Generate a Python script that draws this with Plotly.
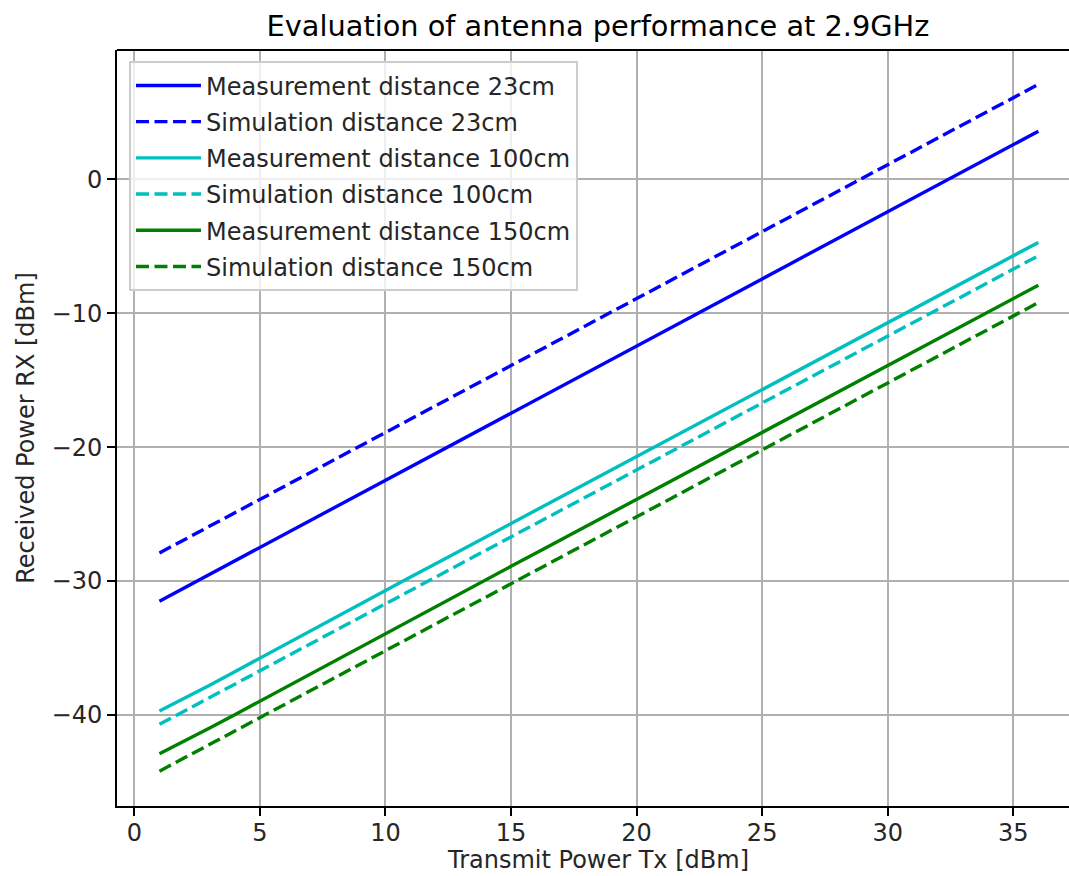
import plotly.graph_objects as go

# Transmit power sweep (dBm)
tx_power = [1, 2, 3, 4, 5, 6, 7, 8, 9, 10, 11, 12, 13, 14, 15, 16, 17, 18,
            19, 20, 21, 22, 23, 24, 25, 26, 27, 28, 29, 30, 31, 32, 33, 34, 35, 36]

# Received power (dBm) per distance
meas_23 = [-31.50, -30.50, -29.49, -28.49, -27.49, -26.48, -25.48, -24.48, -23.48, -22.47,
           -21.47, -20.47, -19.46, -18.46, -17.46, -16.45, -15.45, -14.45, -13.45, -12.44,
           -11.44, -10.44, -9.43, -8.43, -7.43, -6.42, -5.42, -4.42, -3.42, -2.41,
           -1.41, -0.41, 0.60, 1.60, 2.55, 3.60]
sim_23 = [-27.9, -26.9, -25.9, -24.9, -23.9, -22.9, -21.9, -20.9, -19.9, -18.9,
          -17.9, -16.9, -15.9, -14.9, -13.9, -12.9, -11.9, -10.9, -9.9, -8.9,
          -7.9, -6.9, -5.9, -4.9, -3.9, -2.9, -1.9, -0.9, 0.1, 1.1,
          2.1, 3.1, 4.1, 5.1, 6.1, 7.1]
meas_100 = [-39.70, -38.76, -37.78, -36.77, -35.75, -34.73, -33.71, -32.70, -31.70, -30.70,
            -29.70, -28.70, -27.70, -26.70, -25.70, -24.70, -23.70, -22.70, -21.70, -20.70,
            -19.70, -18.70, -17.70, -16.70, -15.70, -14.70, -13.70, -12.70, -11.70, -10.70,
            -9.70, -8.70, -7.70, -6.70, -5.70, -4.70]
sim_100 = [-40.7, -39.7, -38.7, -37.7, -36.7, -35.7, -34.7, -33.7, -32.7, -31.7,
           -30.7, -29.7, -28.7, -27.7, -26.7, -25.7, -24.7, -23.7, -22.7, -21.7,
           -20.7, -19.7, -18.7, -17.7, -16.7, -15.7, -14.7, -13.7, -12.7, -11.7,
           -10.7, -9.7, -8.7, -7.7, -6.7, -5.7]
meas_150 = [-42.90, -41.96, -40.98, -39.98, -38.97, -37.95, -36.93, -35.91, -34.90, -33.90,
            -32.90, -31.90, -30.90, -29.90, -28.90, -27.90, -26.90, -25.90, -24.90, -23.90,
            -22.90, -21.90, -20.90, -19.90, -18.90, -17.90, -16.90, -15.90, -14.90, -13.90,
            -12.90, -11.90, -10.90, -9.90, -8.90, -7.90]
sim_150 = [-44.2, -43.2, -42.2, -41.2, -40.2, -39.2, -38.2, -37.2, -36.2, -35.2,
           -34.2, -33.2, -32.2, -31.2, -30.2, -29.2, -28.2, -27.2, -26.2, -25.2,
           -24.2, -23.2, -22.2, -21.2, -20.2, -19.2, -18.2, -17.2, -16.2, -15.2,
           -14.2, -13.2, -12.2, -11.2, -10.2, -9.2]

series_names = ["Measurement distance 23cm", "Simulation distance 23cm",
                "Measurement distance 100cm", "Simulation distance 100cm",
                "Measurement distance 150cm", "Simulation distance 150cm"]
series_values = [meas_23, sim_23, meas_100, sim_100, meas_150, sim_150]
series_colors = ["#0000ff", "#0000ff", "#00bfbf", "#00bfbf", "#008000", "#008000"]
series_dash = ["solid", "13px,5.5px", "solid", "13px,5.5px", "solid", "13px,5.5px"]

x_ticks = [0, 5, 10, 15, 20, 25, 30, 35]
y_ticks = [-40, -30, -20, -10, 0]
y_tick_text = ["\u221240", "\u221230", "\u221220", "\u221210", "0"]

FONT = "DejaVu Sans"
TEXT = "#262626"

fig = go.Figure()
for i, (name, vals, col, dash) in enumerate(zip(series_names, series_values,
                                                 series_colors, series_dash)):
    fig.add_trace(go.Scatter(
        x=tx_power, y=vals, mode="lines", name=name,
        legendgroup=f"g{i}",
        line=dict(color=col, width=3.4, dash=dash),
    ))

axis_common = dict(
    showline=True, linecolor="black", linewidth=2,
    ticks="outside", ticklen=8, tickwidth=2, tickcolor="black",
    showgrid=True, gridcolor="#b0b0b0", gridwidth=2,
    zeroline=False, automargin=False,
    tickfont=dict(family=FONT, size=24, color=TEXT),
)

fig.update_xaxes(
    range=[-0.69, 37.22], tickvals=x_ticks, mirror=False,
    ticklabelstandoff=-4,
    **axis_common,
)
fig.update_yaxes(
    range=[-46.8, 9.67], tickvals=y_ticks, ticktext=y_tick_text,
    title=dict(text="Received Power RX [dBm]",
               font=dict(family=FONT, size=24, color=TEXT), standoff=10),
    **axis_common,
)

# x-axis label, centred under the full axes span
fig.add_annotation(
    text="Transmit Power Tx [dBm]", showarrow=False,
    xref="paper", yref="paper", x=(598 - 117) / 952, y=(806 - 860) / 756,
    xanchor="center", yanchor="middle",
    font=dict(family=FONT, size=24, color=TEXT),
)

# top spine
fig.add_shape(type="line", xref="paper", yref="paper", x0=0, x1=1, y0=1, y1=1,
              line=dict(color="black", width=2))

fig.update_layout(
    width=1069, height=876,
    margin=dict(l=117, r=0, t=50, b=70),
    paper_bgcolor="white", plot_bgcolor="white",
    title=dict(text="Evaluation of antenna performance at 2.9GHz",
               font=dict(family=FONT, size=28.8, color="black"),
               x=598 / 1069, xref="container", xanchor="center",
               y=1 - 26 / 876, yref="container", yanchor="middle"),
    legend=dict(
        x=0.0126, y=0.985, xanchor="left", yanchor="top",
        bgcolor="rgba(255,255,255,0.8)", bordercolor="#cccccc", borderwidth=2,
        font=dict(family=FONT, size=24, color=TEXT),
        tracegroupgap=2, itemwidth=65,
    ),
    showlegend=True,
)

fig.write_html("out.html")
